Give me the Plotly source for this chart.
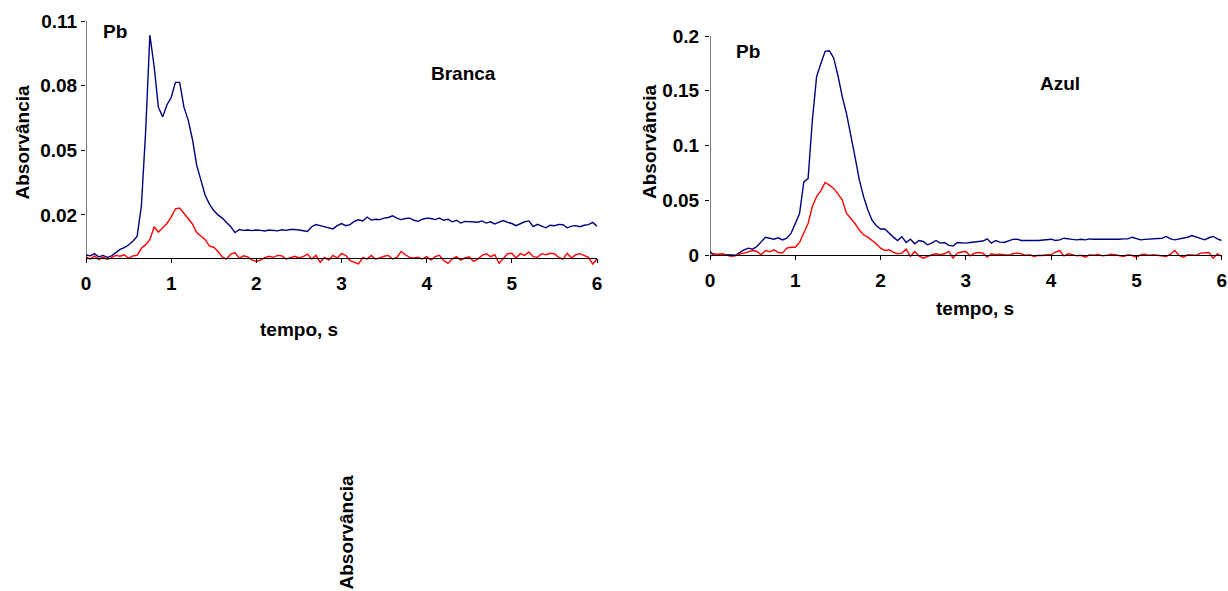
import plotly.graph_objects as go

# Time axis: 0 to 6 s in 0.05 s steps
tempo = [round(i * 0.05, 2) for i in range(121)]

# Branca sample (left panel)
branca_azul_escuro = [
    0.0014, 0.0010, 0.0020, 0.0005, 0.0012, 0.0003, 0.0010, 0.0025, 0.0040, 0.0048,
    0.0060, 0.0078, 0.0100, 0.0240, 0.0585, 0.1035, 0.0890, 0.0700, 0.0655, 0.0710,
    0.0745, 0.0815, 0.0815, 0.0700, 0.0640, 0.0550, 0.0430, 0.0360, 0.0290, 0.0250,
    0.0220, 0.0200, 0.0185, 0.0165, 0.0145, 0.0118, 0.0132, 0.0128, 0.0130, 0.0127,
    0.0130, 0.0128, 0.0125, 0.0130, 0.0127, 0.0126, 0.0131, 0.0128, 0.0132, 0.0133,
    0.0130, 0.0126, 0.0123, 0.0145, 0.0155, 0.0150, 0.0145, 0.0138, 0.0135, 0.0150,
    0.0160, 0.0150, 0.0155, 0.0170, 0.0177, 0.0172, 0.0190, 0.0176, 0.0180, 0.0178,
    0.0185, 0.0188, 0.0196, 0.0185, 0.0178, 0.0183, 0.0185, 0.0175, 0.0170, 0.0180,
    0.0185, 0.0183, 0.0178, 0.0185, 0.0175, 0.0180, 0.0168, 0.0175, 0.0162, 0.0170,
    0.0169, 0.0170, 0.0166, 0.0172, 0.0162, 0.0168, 0.0158, 0.0166, 0.0174, 0.0165,
    0.0160, 0.0150, 0.0158, 0.0168, 0.0172, 0.0146, 0.0156, 0.0148, 0.0140, 0.0152,
    0.0150, 0.0156, 0.0154, 0.0140, 0.0148, 0.0150, 0.0145, 0.0152, 0.0155, 0.0165,
    0.0148,
]
branca_vermelho = [
    0.0005, -0.0005, 0.0010, -0.0008, 0.0004, -0.0006, 0.0002, 0.0012, 0.0008, 0.0015,
    -0.0002, 0.0010, 0.0012, 0.0045, 0.0062, 0.0085, 0.0145, 0.0120, 0.0140, 0.0160,
    0.0190, 0.0228, 0.0232, 0.0208, 0.0180, 0.0158, 0.0118, 0.0100, 0.0085, 0.0055,
    0.0050, 0.0030, 0.0005, -0.0005, 0.0018, 0.0025, -0.0002, 0.0010, 0.0005, -0.0010,
    -0.0016, -0.0010, 0.0002, 0.0008, 0.0003, 0.0012, 0.0010, -0.0005, 0.0003, 0.0008,
    0.0000, 0.0006, 0.0018, -0.0005, 0.0012, -0.0020, 0.0003, -0.0010, 0.0012, 0.0000,
    0.0020, 0.0012, -0.0012, -0.0020, -0.0028, 0.0002, -0.0005, 0.0012, -0.0005, 0.0000,
    0.0008, 0.0012, -0.0005, 0.0003, 0.0030, 0.0015, 0.0003, 0.0000, 0.0003, -0.0005,
    0.0006, -0.0010, 0.0006, 0.0012, -0.0012, -0.0025, -0.0005, 0.0006, -0.0010, 0.0000,
    0.0006, -0.0016, -0.0005, 0.0012, 0.0020, 0.0006, 0.0015, -0.0025, 0.0000, 0.0020,
    0.0022, 0.0000, 0.0020, 0.0012, 0.0028, 0.0006, 0.0003, 0.0020, 0.0015, 0.0022,
    0.0020, 0.0003, -0.0005, 0.0022, 0.0000, 0.0015, 0.0020, 0.0012, 0.0003, -0.0028,
    -0.0005,
]

# Azul sample (right panel)
azul_azul_escuro = [
    0.0035, 0.0000, 0.0010, 0.0008, 0.0005, 0.0006, 0.0000, 0.0026, 0.0050, 0.0065,
    0.0056, 0.0080, 0.0126, 0.0165, 0.0156, 0.0147, 0.0160, 0.0140, 0.0156, 0.0200,
    0.0290, 0.0380, 0.0670, 0.0700, 0.1230, 0.1630, 0.1750, 0.1860, 0.1866, 0.1800,
    0.1640, 0.1450, 0.1295, 0.1080, 0.0900, 0.0690, 0.0537, 0.0415, 0.0320, 0.0270,
    0.0240, 0.0240, 0.0200, 0.0166, 0.0135, 0.0170, 0.0117, 0.0147, 0.0105, 0.0135,
    0.0126, 0.0096, 0.0111, 0.0135, 0.0111, 0.0117, 0.0090, 0.0084, 0.0117, 0.0111,
    0.0111, 0.0117, 0.0120, 0.0126, 0.0130, 0.0150, 0.0111, 0.0135, 0.0120, 0.0117,
    0.0130, 0.0145, 0.0147, 0.0135, 0.0135, 0.0138, 0.0135, 0.0135, 0.0140, 0.0147,
    0.0147, 0.0135, 0.0141, 0.0156, 0.0147, 0.0145, 0.0141, 0.0147, 0.0141, 0.0150,
    0.0147, 0.0147, 0.0147, 0.0147, 0.0141, 0.0147, 0.0147, 0.0150, 0.0150, 0.0165,
    0.0150, 0.0141, 0.0145, 0.0147, 0.0147, 0.0150, 0.0156, 0.0172, 0.0150, 0.0141,
    0.0147, 0.0156, 0.0165, 0.0180, 0.0165, 0.0150, 0.0141, 0.0160, 0.0172, 0.0150,
    0.0135,
]
azul_vermelho = [
    -0.0010, 0.0014, 0.0005, 0.0014, 0.0000, -0.0010, -0.0005, 0.0014, 0.0020, 0.0035,
    0.0044, 0.0035, 0.0005, 0.0044, 0.0032, 0.0050, 0.0026, 0.0020, 0.0065, 0.0074,
    0.0074, 0.0117, 0.0200, 0.0290, 0.0445, 0.0536, 0.0590, 0.0664, 0.0640, 0.0610,
    0.0560, 0.0506, 0.0384, 0.0340, 0.0290, 0.0230, 0.0187, 0.0166, 0.0135, 0.0105,
    0.0065, 0.0044, 0.0050, 0.0026, 0.0014, 0.0020, 0.0056, -0.0010, 0.0035, -0.0005,
    -0.0026, -0.0010, 0.0005, 0.0014, 0.0005, 0.0014, 0.0035, -0.0026, 0.0020, 0.0030,
    0.0035, -0.0005, 0.0020, 0.0026, 0.0020, -0.0017, 0.0014, 0.0005, 0.0010, 0.0005,
    0.0000, 0.0014, 0.0020, 0.0014, 0.0000, 0.0005, -0.0010, 0.0000, -0.0002, 0.0005,
    0.0005, 0.0030, 0.0044, -0.0005, 0.0014, 0.0005, -0.0005, 0.0000, -0.0017, 0.0005,
    0.0000, 0.0010, -0.0005, 0.0000, 0.0010, 0.0005, -0.0005, -0.0010, 0.0005, -0.0002,
    -0.0017, 0.0005, 0.0010, 0.0000, 0.0005, 0.0000, -0.0005, -0.0010, 0.0010, 0.0044,
    0.0000, -0.0017, 0.0005, 0.0005, 0.0000, 0.0020, 0.0020, 0.0026, -0.0026, 0.0014,
    -0.0010,
]

x_ticks = [0, 1, 2, 3, 4, 5, 6]
y_ticks_branca = [0.02, 0.05, 0.08, 0.11]
y_ticks_azul = [0, 0.05, 0.1, 0.15, 0.2]

W, H = 1228, 591
FONT = "Liberation Sans, Arial, sans-serif"
NAVY = "#00007f"
RED = "#ff0000"


def px_x(p):
    return p / W


def px_y(p):
    return 1 - p / H


fig = go.Figure()

fig.add_trace(go.Scatter(x=tempo, y=branca_azul_escuro, mode="lines",
                         line=dict(color=NAVY, width=1.4), xaxis="x", yaxis="y"))
fig.add_trace(go.Scatter(x=tempo, y=branca_vermelho, mode="lines",
                         line=dict(color=RED, width=1.4), xaxis="x", yaxis="y"))
fig.add_trace(go.Scatter(x=tempo, y=azul_azul_escuro, mode="lines",
                         line=dict(color=NAVY, width=1.4), xaxis="x2", yaxis="y2"))
fig.add_trace(go.Scatter(x=tempo, y=azul_vermelho, mode="lines",
                         line=dict(color=RED, width=1.4), xaxis="x2", yaxis="y2"))

tick_font = dict(family=FONT, size=19, color="black", weight="bold")

xa = dict(range=[0, 6], tickvals=x_ticks, showgrid=False, zeroline=False,
          showline=True, linecolor="black", linewidth=1, ticks="outside",
          ticklen=4, tickcolor="black", tickfont=tick_font, anchor="free",
          automargin=False, ticklabelstandoff=4)
ya = dict(showgrid=False, zeroline=False, showline=False, ticks="outside",
          ticklen=4, tickcolor="black", tickfont=tick_font, automargin=False)

fig.update_layout(
    width=W, height=H,
    margin=dict(l=0, r=0, t=0, b=0, autoexpand=False),
    paper_bgcolor="white", plot_bgcolor="white",
    showlegend=False,
    xaxis=dict(xa, domain=[px_x(86), px_x(597)], position=px_y(258)),
    yaxis=dict(ya, domain=[px_y(266.6), px_y(21)], range=[-0.004, 0.11],
               tickvals=y_ticks_branca, anchor="x"),
    xaxis2=dict(xa, domain=[px_x(710), px_x(1221.7)], position=px_y(255.3)),
    yaxis2=dict(ya, domain=[px_y(259.7), px_y(36)], range=[-0.004, 0.2],
                tickvals=y_ticks_azul, anchor="x2", ticklabelstandoff=2),
)

# Vertical axis lines from zero to the top tick
fig.add_shape(type="line", xref="x", yref="y", x0=0, x1=0, y0=0, y1=y_ticks_branca[-1],
              line=dict(color="black", width=1))
fig.add_shape(type="line", xref="x2", yref="y2", x0=0, x1=0, y0=0, y1=y_ticks_azul[-1],
              line=dict(color="black", width=1))

label_font = dict(family=FONT, size=19, color="black", weight="bold")


def label(text, x, y, angle=0):
    fig.add_annotation(text=text, x=px_x(x), y=px_y(y), xref="paper", yref="paper",
                       showarrow=False, xanchor="center", yanchor="middle",
                       textangle=angle, font=label_font)


label("Pb", 115, 31)
label("Branca", 463, 73)
label("Pb", 747.5, 51)
label("Azul", 1060, 84)
label("Absorvância", 21.5, 143, -90)
label("Absorvância", 649.5, 142.5, -90)
label("tempo, s", 298.7, 329)
label("tempo, s", 975, 308)
label("Absorvância", 345.5, 533, -90)

fig.write_html("out.html")
